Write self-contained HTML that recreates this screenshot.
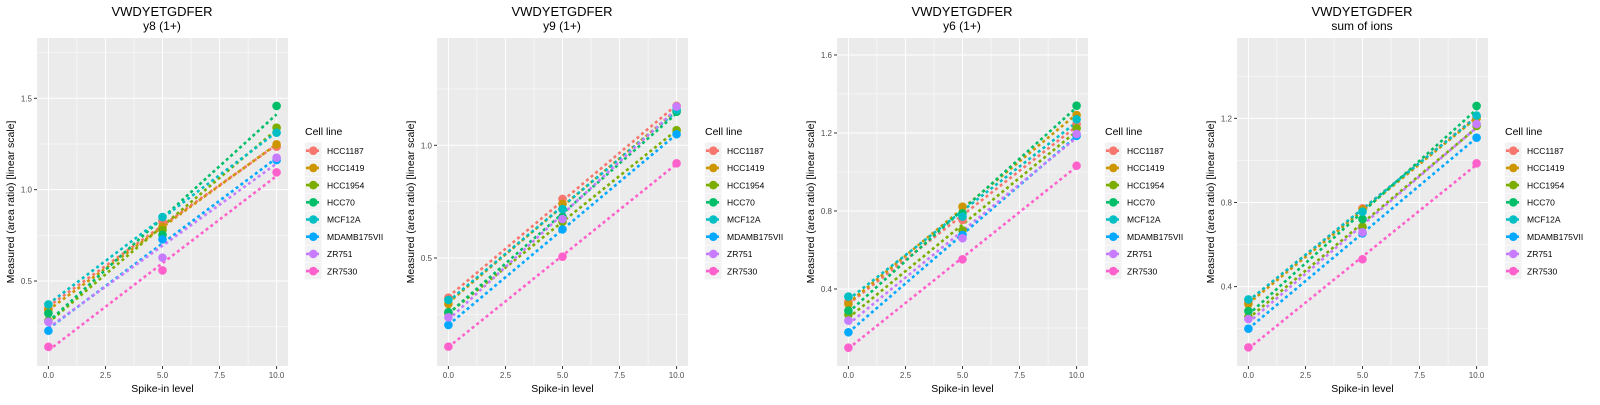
<!DOCTYPE html>
<html><head><meta charset="utf-8"><style>
body{margin:0;background:#fff;width:1600px;height:400px;overflow:hidden}
svg text{font-family:"Liberation Sans",Arial,sans-serif}
</style></head><body>
<svg id="chart" width="1600" height="400" xmlns="http://www.w3.org/2000/svg"></svg>
<script>
const cellLines=["HCC1187","HCC1419","HCC1954","HCC70","MCF12A","MDAMB175VII","ZR751","ZR7530"];
const colors=["#F8766D","#CD9600","#7CAE00","#00BE67","#00BFC4","#00A9FF","#C77CFF","#FF61CC"];
const spikeLevels=[0,5,10];
const xTicks=[0,2.5,5,7.5,10];
const xTickLabels=["0.0","2.5","5.0","7.5","10.0"];
const panelTitles=["y8 (1+)","y9 (1+)","y6 (1+)","sum of ions"];
const yRanges=[[0.035,1.830],[0.021,1.476],[0.005,1.687],[0.0225,1.582]];
const yTicks=[[0.5,1.0,1.5],[0.5,1.0],[0.4,0.8,1.2,1.6],[0.4,0.8,1.2]];
const yTickLabels=[["0.5","1.0","1.5"],["0.5","1.0"],["0.4","0.8","1.2","1.6"],["0.4","0.8","1.2"]];
const valsY8=[[0.35,0.825,1.235],[0.341,0.797,1.248],[0.283,0.779,1.339],[0.323,0.753,1.458],[0.372,0.85,1.312],[0.228,0.728,1.162],[0.277,0.628,1.175],[0.14,0.558,1.095]];
const valsY9=[[0.324,0.762,1.175],[0.296,0.74,1.15],[0.254,0.661,1.067],[0.26,0.683,1.149],[0.314,0.717,1.157],[0.203,0.627,1.049],[0.237,0.673,1.172],[0.107,0.506,0.92]];
const valsY6=[[0.335,0.754,1.246],[0.323,0.822,1.292],[0.267,0.70,1.224],[0.289,0.788,1.34],[0.361,0.771,1.27],[0.178,0.677,1.185],[0.238,0.66,1.195],[0.099,0.552,1.032]];
const valsSum=[[0.328,0.772,1.208],[0.317,0.767,1.2],[0.257,0.685,1.164],[0.284,0.721,1.259],[0.339,0.756,1.213],[0.2,0.653,1.108],[0.246,0.658,1.173],[0.111,0.53,0.986]];
const panelData=[valsY8,valsY9,valsY6,valsSum];

const NS="http://www.w3.org/2000/svg";
const svg=document.getElementById('chart');
function mk(tag,attrs,parent,text){const e=document.createElementNS(NS,tag);for(const k in attrs)e.setAttribute(k,attrs[k]);if(text!==undefined)e.textContent=text;parent.appendChild(e);return e;}

panelData.forEach((vals,p)=>{
  const ox=p*400;
  const g=mk('g',{},svg);
  
  
  const L=ox+37,R=ox+288,T=38,B=366;
  const [y0,y1]=yRanges[p];
  const xs=v=>L+(v+0.5)/11*(R-L);
  const ys=v=>B-(v-y0)/(y1-y0)*(B-T);
  const bg=mk('rect',{x:L,y:T,width:R-L,height:B-T,fill:'#EBEBEB'},g);
  
  
  for(let i=0;i<xTicks.length-1;i++){const m=(xTicks[i]+xTicks[i+1])/2;mk('line',{x1:xs(m),x2:xs(m),y1:T,y2:B,stroke:'#fff','stroke-width':0.5},g);}
  const yt=yTicks[p];const step=yt[1]-yt[0];
  for(let v=yt[0]-step/2;v<y1;v+=step){if(v>y0)mk('line',{x1:L,x2:R,y1:ys(v),y2:ys(v),stroke:'#fff','stroke-width':0.5},g);}
  xTicks.forEach((t,i)=>{
    mk('line',{x1:xs(t),x2:xs(t),y1:T,y2:B,stroke:'#fff','stroke-width':1},g);
    mk('line',{x1:xs(t),x2:xs(t),y1:B,y2:B+3,stroke:'#333','stroke-width':1},g);
    const tl=mk('text',{x:xs(t),y:B+12,'font-size':8,fill:'#4D4D4D','text-anchor':'middle'},g,xTickLabels[i]);
    
    
  });
  yt.forEach((t,i)=>{
    mk('line',{x1:L,x2:R,y1:ys(t),y2:ys(t),stroke:'#fff','stroke-width':1},g);
    mk('line',{x1:L-3,x2:L,y1:ys(t),y2:ys(t),stroke:'#333','stroke-width':1},g);
    const tl=mk('text',{x:L-5,y:ys(t)+3,'font-size':8,fill:'#4D4D4D','text-anchor':'end'},g,yTickLabels[p][i]);
    
    
  });
  vals.forEach((v,s)=>{
    const n=spikeLevels.length;const mx=spikeLevels.reduce((a,b)=>a+b)/n;const my=v.reduce((a,b)=>a+b)/n;
    let sxy=0,sxx=0;spikeLevels.forEach((x,i)=>{sxy+=(x-mx)*(v[i]-my);sxx+=(x-mx)*(x-mx);});
    const b=sxy/sxx,a=my-b*mx;
    const ln=mk('line',{x1:xs(0),y1:ys(a),x2:xs(10),y2:ys(a+10*b),stroke:colors[s],'stroke-width':2.6,'stroke-dasharray':'3,3'},g);
    
    
  });
  vals.forEach((v,s)=>{
    v.forEach((val,i)=>{
      const c=mk('circle',{cx:xs(spikeLevels[i]),cy:ys(val),r:4.3,fill:colors[s]},g);
      
      
    });
  });
  const t1=mk('text',{x:ox+162,y:16,'font-size':13,'text-anchor':'middle',fill:'#000'},g,'VWDYETGDFER');
  
  
  const t2=mk('text',{x:ox+162,y:30,'font-size':12,'text-anchor':'middle',fill:'#000'},g,panelTitles[p]);
  
  
  const xa=mk('text',{x:(L+R)/2,y:392,'font-size':10.5,'text-anchor':'middle',fill:'#000'},g,'Spike-in level');
  
  
  const ya=mk('text',{x:0,y:0,'font-size':10.5,'text-anchor':'middle',fill:'#000',transform:`translate(${ox+14},202) rotate(-90)`},g,'Measured (area ratio) [linear scale]');
  
  
  const lg=mk('g',{},g);
  
  
  const lt=mk('text',{x:ox+305,y:135,'font-size':10.5,fill:'#000'},lg,'Cell line');
  
  
  cellLines.forEach((name,s)=>{
    const cy=150.7+s*17.2;
    const ent=mk('g',{},lg);
    
    
    mk('rect',{x:ox+305,y:cy-8.3,width:16.6,height:16.6,fill:'#F2F2F2'},ent);
    mk('line',{x1:ox+306,x2:ox+320,y1:cy,y2:cy,stroke:colors[s],'stroke-width':2.6,'stroke-dasharray':'3,2'},ent);
    mk('circle',{cx:ox+313.3,cy:cy,r:4.3,fill:colors[s]},ent);
    mk('text',{x:ox+327,y:cy+3.2,'font-size':8.5,fill:'#000'},ent,name);
  });
});
</script>
</body></html>
